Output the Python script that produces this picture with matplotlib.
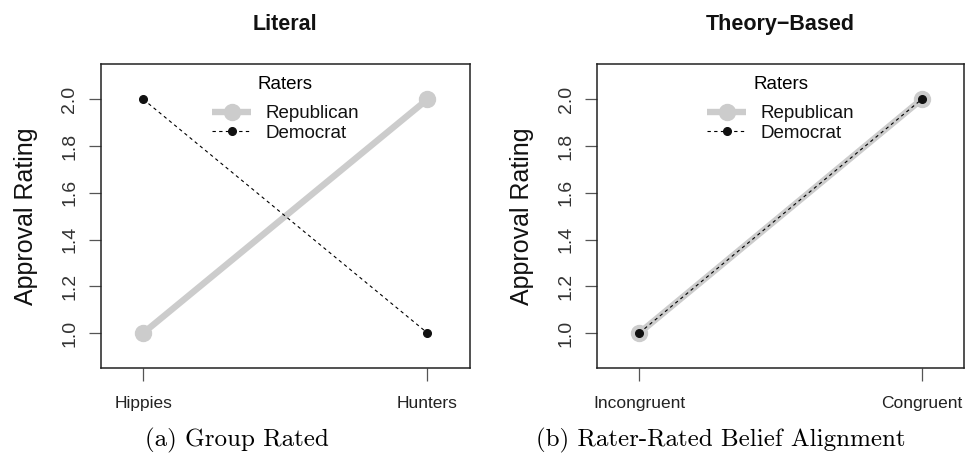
import matplotlib
matplotlib.use("Agg")
import matplotlib.pyplot as plt

# Data
left_categories = ["Hippies", "Hunters"]
right_categories = ["Incongruent", "Congruent"]
left_republican = [1.0, 2.0]
left_democrat = [2.0, 1.0]
right_republican = [1.0, 2.0]
right_democrat = [1.0, 2.0]
y_ticks = [1.0, 1.2, 1.4, 1.6, 1.8, 2.0]
titles = ["Literal", "Theory\u2212Based"]
captions = ["(a) Group Rated", "(b) Rater-Rated Belief Alignment"]

plt.rcParams['font.family'] = ['Liberation Sans', 'DejaVu Sans']

fig = plt.figure(figsize=(9.71, 4.61), dpi=100)
W, H = 971, 461

def make_axes(x0, x1, y0, y1):
    return fig.add_axes([x0 / W, 1 - y1 / H, (x1 - x0) / W, (y1 - y0) / H])

axL = make_axes(100.7, 470, 64.3, 368)
axR = make_axes(597, 964, 64.3, 368)

grey = '#cccccc'

for ax, cats, rep, dem, title in [
    (axL, left_categories, left_republican, left_democrat, titles[0]),
    (axR, right_categories, right_republican, right_democrat, titles[1]),
]:
    x = list(range(1, len(cats) + 1))
    ax.plot(x, rep, color=grey, lw=4.6, marker='o', ms=11.5, mfc=grey, mec=grey,
            solid_capstyle='butt', label='Republican', zorder=2)
    ax.plot(x, dem, color='black', lw=0.8, ls=(0, (3, 3)), marker='o', ms=5.5,
            mfc='#111111', mec='#111111', label='Democrat', zorder=3)
    ax.set_xlim(0.85, 2.15)
    ax.set_ylim(0.85, 2.15)
    ax.set_xticks(x)
    ax.set_xticklabels(cats, fontsize=12.5, color='#222222')
    ax.set_yticks(y_ticks)
    ax.set_yticklabels([f"{v:.1f}" for v in y_ticks], rotation=90, va='center',
                       fontsize=14, color='#333333')
    ax.tick_params(axis='both', direction='out', length=9, width=0.9, color='#555555')
    ax.tick_params(axis='y', pad=7)
    ax.tick_params(axis='x', pad=11)
    for s in ax.spines.values():
        s.set_linewidth(1.1)
        s.set_color('#222222')
    ax.set_ylabel("Approval Rating", fontsize=18, color='#111111')
    ax.yaxis.label.set_va('center')
    ax.yaxis.set_label_coords(-75 / ((ax.get_position().width) * W), 0.5)
    ax.set_title(title, fontsize=15.5, fontweight='bold', pad=25, color='#111111')
    leg = ax.legend(loc='upper center', bbox_to_anchor=(0.5, 1.0), frameon=False,
                    title='Raters', fontsize=13.5, title_fontsize=13.5, numpoints=1,
                    handlelength=2.1, handletextpad=0.75, labelspacing=0.12,
                    borderaxespad=0.2)
    leg._legend_box.sep = 9
    for t in leg.get_texts():
        t.set_color('#111111')

fig.text(237 / W, 1 - 440 / H, captions[0], ha='center', va='center',
         fontsize=18, family='cmr10')
fig.text(721 / W, 1 - 440 / H, captions[1], ha='center', va='center',
         fontsize=18, family='cmr10')

fig.savefig('out.png', dpi=100)
